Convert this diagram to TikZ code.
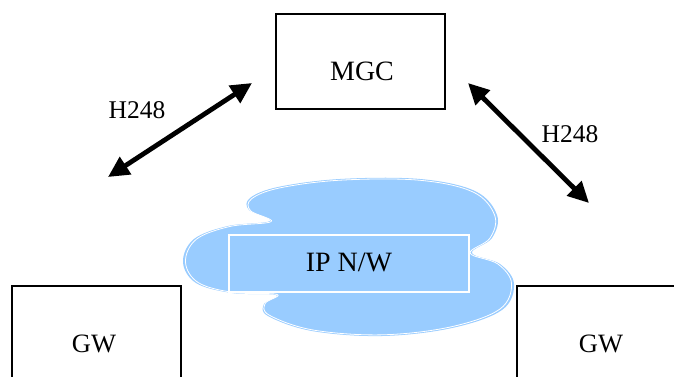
\documentclass[tikz,border=0pt]{standalone}
\usepackage{fontspec}
\setmainfont{Liberation Serif}
\usetikzlibrary{arrows.meta}
\definecolor{cloudblue}{HTML}{99CCFF}
\tikzset{
  box/.style={draw=black, line width=1.5pt, fill=white},
  lbl/.style={inner sep=0pt, font=\fontsize{26.5}{30}\selectfont},
  link/.style={line width=4.8pt, {Triangle[length=21pt,width=20pt]}-{Triangle[length=21pt,width=20pt]}},
}
\begin{document}
\begin{tikzpicture}[x=1pt,y=-1pt]
\useasboundingbox (0,0) rectangle (674,376);
\clip (0,0) rectangle (674,376);
% cloud
\def\cloudpath{plot[smooth cycle, tension=0.6] coordinates {(270,221) (249,210) (250,198) (278,187) (340,179) (420,179) (475,191) (497,215) (492,238) (472,253) (500,264) (514,284) (502,310) (452,328) (382,336) (312,331) (268,316) (264,304) (276,295) (232,293) (196,283) (183,262) (194,239) (228,226)}}
\fill[cloudblue] \cloudpath;
\begin{scope}[shift={(349,258)}, scale=0.985, shift={(-349,-258)}]
\draw[white, line width=0.8pt] \cloudpath;
\end{scope}
\node[draw=white, line width=1.2pt, fill=cloudblue, minimum width=240pt, minimum height=57pt, inner sep=0pt] (ipnw) at (349,263.5) {};
\node[lbl, font=\fontsize{28}{32}\selectfont] (iptext) at (349,262) {IP N/W};
% boxes
\draw[box] (276,14) rectangle (445,109);
\node[lbl, font=\fontsize{28}{32}\selectfont] (mgc) at (362,71) {MGC};
\coordinate (mgcL) at (252,83);
\coordinate (mgcR) at (468,83);
\draw[box] (12,286) rectangle (181,390);
\node[lbl] (gwl) at (94,344) {GW};
\draw[box] (517,286) rectangle (690,390);
\node[lbl] (gwr) at (601,344) {GW};
\coordinate (gwlT) at (108,177);
\coordinate (gwrT) at (589,203);
% links
\draw[link] (gwlT) -- (mgcL);
\draw[link] (mgcR) -- (gwrT);
\node[lbl, font=\fontsize{25.5}{30}\selectfont] (h1) at (137,110) {H248};
\node[lbl, font=\fontsize{25.5}{30}\selectfont] (h2) at (570,134) {H248};
\end{tikzpicture}
\end{document}
